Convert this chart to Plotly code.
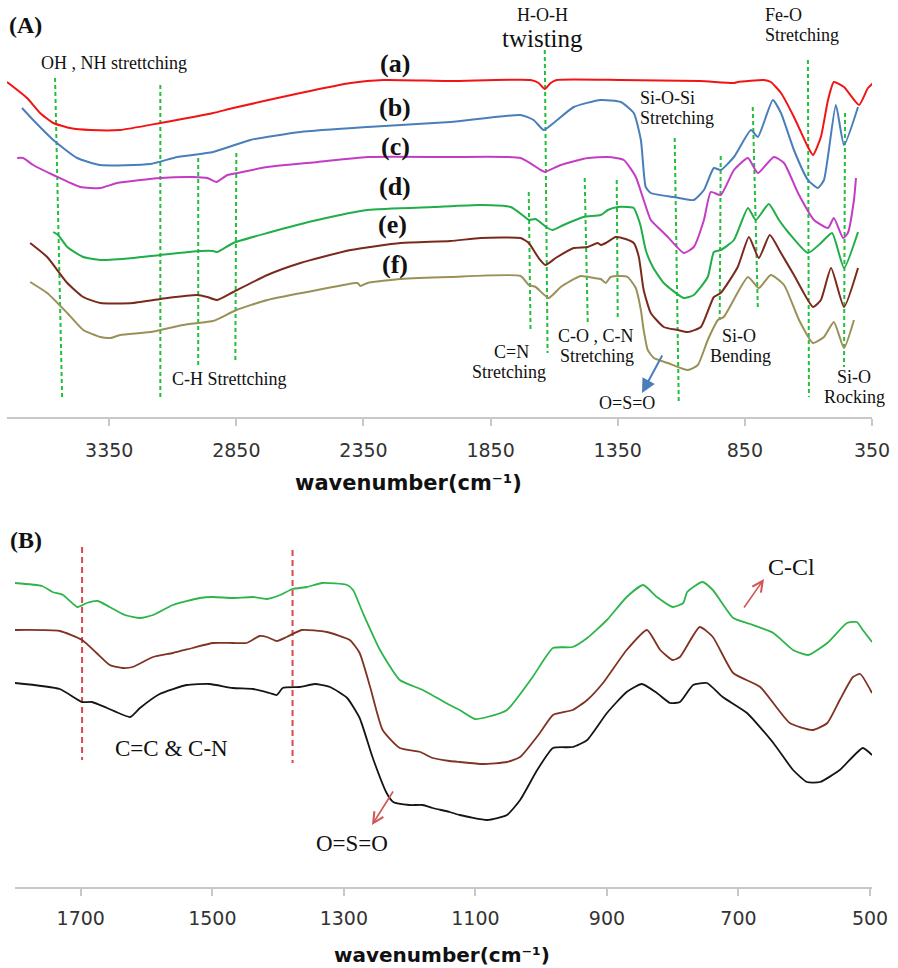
import plotly.graph_objects as go

W, H = 898, 968

# ---------------- Panel A data (wavenumber cm-1, transmittance a.u.) ----------------
wn_a = [3752,3673,3622,3570,3504,3425,3307,3149,2941,2862,2598,2401,2271,2008,1693,1661,1637,1614,1590,1338,1027,893,878,775,748,708,657,602,582,551,523,500,460,401,366,342,338]
t_a = [335,319,304,294,289,287,287,294,304,309,324,334,337,336,337,334,328,334,337,337,336,334,335,337,335,324,300,270,262,280,317,335,330,312,329,335,350]

wn_b = [3693,3649,3570,3476,3385,3189,3082,2941,2795,2598,2334,2008,1732,1681,1641,1602,1523,1417,1338,1287,1259,1240,1220,1130,1051,1011,972,945,893,826,799,740,708,657,602,563,539,492,460,405]
t_b = [309,297,277,259,252,253,260,265,277,285,290,295,302,297,287,294,310,317,315,304,277,230,224,220,217,227,249,247,260,287,280,317,304,267,237,229,237,312,272,310]

wn_c = [3712,3689,3649,3570,3464,3385,3319,3149,3019,2964,2929,2885,2846,2728,2531,2334,2008,1732,1653,1637,1574,1468,1389,1326,1279,1248,1220,1181,1153,1090,1051,1011,984,945,893,838,799,736,696,641,578,523,500,464,445,421,413]
t_c = [259,259,252,242,230,229,234,239,240,239,235,242,244,250,255,260,260,259,247,245,252,259,260,257,240,217,197,187,180,164,170,197,225,222,247,259,244,260,254,224,197,189,199,179,184,217,239]

wn_d = [3570,3551,3515,3452,3385,3256,3149,2992,2941,2925,2862,2728,2531,2334,2074,1889,1771,1720,1700,1673,1626,1606,1563,1484,1417,1389,1350,1311,1287,1267,1259,1240,1212,1169,1090,1051,996,972,945,893,838,807,756,716,677,602,551,507,460,405]
t_d = [185,182,170,160,157,159,162,166,166,165,174,184,197,207,210,212,210,201,197,198,189,187,192,200,202,207,210,210,209,197,190,167,150,134,119,122,140,165,167,177,209,197,213,197,184,164,174,184,149,185]

wn_e = [3661,3594,3515,3452,3385,3256,3122,3004,2964,2925,2862,2728,2598,2401,2204,2008,1889,1732,1700,1661,1634,1594,1523,1468,1429,1417,1397,1358,1319,1287,1267,1248,1220,1169,1114,1074,1023,972,945,878,834,795,752,708,657,582,551,511,460,405]
t_e = [174,160,134,120,114,114,119,122,120,117,125,142,154,167,174,176,179,179,174,159,152,159,169,170,174,172,174,180,178,174,160,127,104,90,87,85,90,120,124,150,180,159,182,164,142,110,117,149,110,149]

wn_f = [3661,3594,3515,3452,3385,3346,3307,3189,3059,2941,2913,2850,2728,2531,2374,2362,2334,2204,2008,1732,1700,1673,1622,1574,1496,1444,1417,1397,1378,1338,1311,1279,1259,1248,1232,1208,1153,1074,1035,996,956,933,838,795,748,696,637,582,539,500,460,421]
t_f = [135,124,104,87,80,79,82,85,92,96,99,107,117,127,134,131,134,138,140,141,132,130,119,130,141,139,138,134,140,141,140,129,107,87,67,59,54,47,52,77,97,100,140,129,142,132,97,74,80,95,69,97]

# band marker lines (panel A)
band_top_wn = [3563,3149,3000,2850,1637,1700,1480,1354,1126,945,819,602,456]
band_bot_wn = [3535,3149,3000,2854,1626,1693,1468,1350,1110,949,799,598,460]
band_top_t = [339,332,259,264,367,225,239,237,279,261,310,357,304]
band_bot_t = [17,19,52,54,64,87,95,97,14,97,109,20,50]

ticks_a = [3350, 2850, 2350, 1850, 1350, 850, 350]

# ---------------- Panel B data ----------------
wn_g = [1800,1759,1743,1727,1705,1691,1674,1656,1633,1610,1590,1560,1519,1499,1469,1438,1417,1397,1378,1356,1333,1295,1286,1271,1245,1215,1180,1139,1124,1101,1082,1052,1013,982,952,930,900,870,845,824,800,784,778,755,739,708,682,647,617,594,565,535,520,511,497]
t_g = [304,301,295,292,280,284,286,280,272,269,272,282,289,290,289,290,288,292,298,300,304,302,297,274,237,207,197,182,177,168,170,177,210,239,240,249,267,290,302,290,280,284,295,305,297,269,263,254,237,232,244,264,265,257,245]

wn_h = [1800,1732,1698,1676,1656,1636,1621,1590,1560,1530,1499,1469,1448,1428,1417,1402,1387,1364,1326,1291,1276,1260,1241,1215,1184,1165,1139,1124,1089,1052,1032,1002,982,952,930,906,870,839,819,800,789,759,739,708,667,622,587,565,546,526,515,497]
t_h = [257,256,247,234,222,219,220,230,234,239,244,244,244,251,250,246,250,257,255,247,234,200,157,139,135,129,126,125,123,125,130,154,172,177,187,204,237,257,237,227,230,260,250,214,200,164,157,164,187,210,213,194]

wn_k = [1800,1732,1698,1683,1660,1625,1610,1580,1539,1504,1469,1438,1413,1402,1393,1367,1344,1321,1295,1276,1256,1235,1225,1200,1180,1165,1139,1124,1082,1052,1032,1006,982,952,930,900,870,847,824,804,789,769,748,724,687,647,617,596,576,546,511,497]
t_k = [204,198,185,185,179,170,179,193,202,203,199,198,194,192,199,200,203,200,189,169,129,94,85,82,82,79,75,72,67,72,87,117,139,140,147,174,195,203,194,184,185,202,204,190,174,144,117,105,105,117,139,132]

bandB_wn = [1698, 1378]
bandB_top = [340, 337]
bandB_bot = [127, 124]

ticks_b = [1700, 1500, 1300, 1100, 900, 700, 500]

# ---------------- figure ----------------
fig = go.Figure()

def curve(x, y, color, xa, ya, width=2):
    fig.add_trace(go.Scatter(x=x, y=y, mode="lines", xaxis=xa, yaxis=ya,
                             line=dict(color=color, width=width, shape="spline", smoothing=0.5),
                             hoverinfo="skip", showlegend=False))

def vlines(x0, x1, y0, y1, color, xa, ya, dash):
    xs, ys = [], []
    for a, b, c, d in zip(x0, x1, y0, y1):
        xs += [a, b, None]
        ys += [c, d, None]
    fig.add_trace(go.Scatter(x=xs, y=ys, mode="lines", xaxis=xa, yaxis=ya,
                             line=dict(color=color, width=2, dash=dash),
                             hoverinfo="skip", showlegend=False))

vlines(band_top_wn, band_bot_wn, band_top_t, band_bot_t, "#22c03a", "x", "y", "4px,3px")
curve(wn_a, t_a, "#f21414", "x", "y")
curve(wn_b, t_b, "#4a7ebb", "x", "y")
curve(wn_c, t_c, "#c43cc4", "x", "y")
curve(wn_d, t_d, "#1fae48", "x", "y")
curve(wn_e, t_e, "#7a2a1c", "x", "y")
curve(wn_f, t_f, "#9a9158", "x", "y")

vlines(bandB_wn, bandB_wn, bandB_top, bandB_bot, "#d9484a", "x2", "y2", "6px,4px")
curve(wn_g, t_g, "#2db54a", "x2", "y2", 1.8)
curve(wn_h, t_h, "#7f3322", "x2", "y2", 1.8)
curve(wn_k, t_k, "#151515", "x2", "y2", 1.8)

def px(x):
    return x / W

def py(y):
    return 1 - y / H

axis_common = dict(showline=True, linecolor="#c8c8c8", linewidth=1.5, ticks="outside",
                   tickcolor="#c8c8c8", ticklen=7, tickwidth=1.5, showgrid=False, zeroline=False,
                   tickfont=dict(family="DejaVu Sans", size=19, color="#333333"))

fig.update_layout(
    width=W, height=H, margin=dict(l=0, r=0, t=0, b=0), autosize=False,
    paper_bgcolor="white", plot_bgcolor="white",
    xaxis=dict(domain=[px(7), px(872)], range=[3752, 350], tickvals=ticks_a,
               anchor="y", ticklabelstandoff=8, automargin=False, **axis_common),
    yaxis=dict(domain=[py(417), py(40)], range=[0, 377], visible=False),
    xaxis2=dict(domain=[px(15), px(872)], range=[1800, 497], tickvals=ticks_b,
                anchor="y2", ticklabelstandoff=6, automargin=False, **axis_common),
    yaxis2=dict(domain=[py(887), py(540)], range=[0, 347], visible=False),
)

SERIF = "Liberation Serif"
anns = []

def txt(s, x, y, size, bold=False, anchor="center", family=SERIF, color="#111111"):
    if bold:
        s = "<b>" + s + "</b>"
    anns.append(dict(text=s, x=px(x), y=py(y), xref="paper", yref="paper",
                     xanchor=anchor, yanchor="middle", showarrow=False,
                     font=dict(family=family, size=size, color=color)))

# panel A labels
txt("(A)", 25, 25, 24, bold=True)
txt("OH , NH strettching", 114, 63, 18)
for lab, x, y in [("(a)", 395, 63), ("(b)", 395, 108), ("(c)", 395, 146), ("(d)", 395, 187),
                  ("(e)", 392, 225), ("(f)", 395, 265)]:
    txt(lab, x, y, 26, bold=True)
txt("H-O-H", 542, 15, 18)
txt("twisting", 542, 38, 25)
txt("Fe-O", 763, 15, 18, anchor="left")
txt("Stretching", 763, 35, 18, anchor="left")
txt("Si-O-Si", 638, 98, 18, anchor="left")
txt("Stretching", 638, 118, 18, anchor="left")
txt("C-H Strettching", 229, 379, 18)
txt("C=N", 511, 352, 18)
txt("Stretching", 509, 372, 18)
txt("C-O , C-N", 596, 336, 18)
txt("Stretching", 597, 356, 18)
txt("O=S=O", 627, 403, 18)
txt("Si-O", 739, 336, 18)
txt("Bending", 740, 356, 18)
txt("Si-O", 854, 377, 18)
txt("Rocking", 854, 397, 18)
txt("wavenumber(cm⁻¹)", 408, 483, 21, bold=True, family="DejaVu Sans")

# panel B labels
txt("(B)", 26, 540, 24, bold=True)
txt("C=C &amp; C-N", 171, 748, 23)
txt("O=S=O", 352, 843, 23)
txt("C-Cl", 791, 567, 24)
txt("wavenumber(cm⁻¹)", 442, 955, 20, bold=True, family="DejaVu Sans")

# arrows
anns.append(dict(x=px(642), y=py(393), xref="paper", yref="paper", ax=21, ay=-39,
                 showarrow=True, arrowhead=2, arrowsize=1.4, arrowwidth=2, arrowcolor="#4a7ebb", text=""))
anns.append(dict(x=px(372), y=py(825), xref="paper", yref="paper", ax=22, ay=-35,
                 showarrow=True, arrowhead=5, arrowsize=1.3, arrowwidth=1.6, arrowcolor="#d25555", text=""))
anns.append(dict(x=px(764), y=py(579), xref="paper", yref="paper", ax=-21, ay=30,
                 showarrow=True, arrowhead=5, arrowsize=1.3, arrowwidth=1.6, arrowcolor="#d25555", text=""))

fig.update_layout(annotations=anns)

post = ("document.documentElement.style.margin='0';document.documentElement.style.overflow='hidden';"
        "document.body.style.margin='0';document.body.style.overflow='hidden';")
fig.write_html("out.html", post_script=post, config={"responsive": False})
